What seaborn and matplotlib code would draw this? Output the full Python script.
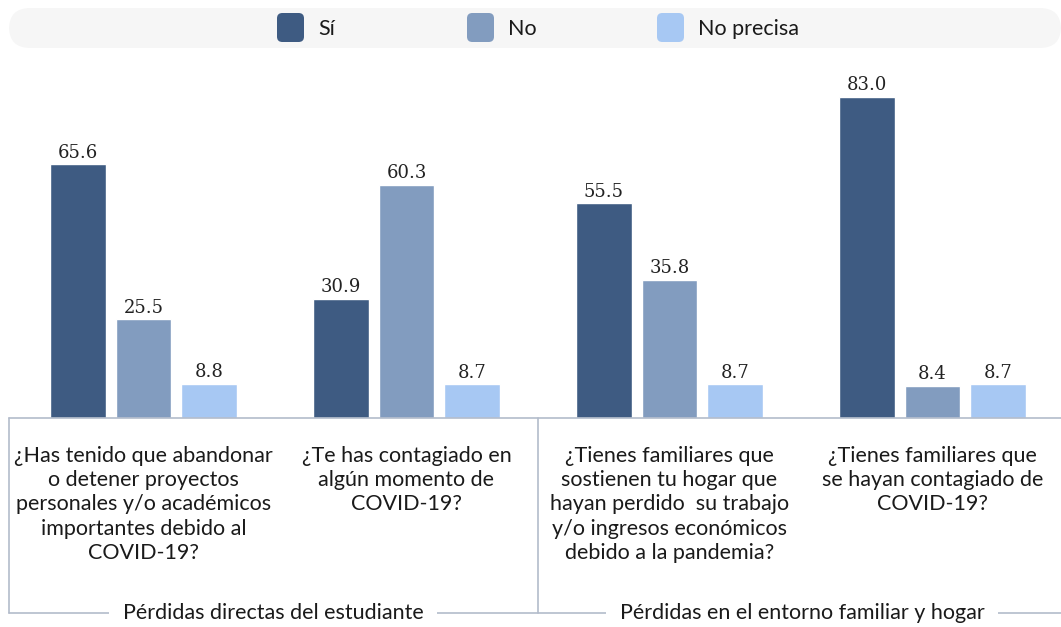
import pandas as pd
import seaborn as sns
import matplotlib.pyplot as plt
from matplotlib.patches import FancyBboxPatch
from matplotlib.lines import Line2D

preguntas = [
    "¿Has tenido que abandonar\no detener proyectos\npersonales y/o académicos\nimportantes debido al\nCOVID-19?",
    "¿Te has contagiado en\nalgún momento de\nCOVID-19?",
    "¿Tienes familiares que\nsostienen tu hogar que\nhayan perdido  su trabajo\ny/o ingresos económicos\ndebido a la pandemia?",
    "¿Tienes familiares que\nse hayan contagiado de\nCOVID-19?",
]
respuestas = ["Sí", "No", "No precisa"]
si = [65.6, 30.9, 55.5, 83.0]
no = [25.5, 60.3, 35.8, 8.4]
no_precisa = [8.8, 8.7, 8.7, 8.7]
grupos = ["Pérdidas directas del estudiante", "Pérdidas en el entorno familiar y hogar"]

palette = {"Sí": "#3e5b82", "No": "#829cbf", "No precisa": "#a7c8f3"}
LINE = "#b3bccb"
W, H = 1061, 627


def px(x, y):
    return x / W, 1 - y / H


def plot(data):
    sns.set_style("white")
    plt.rcParams["font.family"] = ["Lato", "DejaVu Sans"]
    fig = plt.figure(figsize=(W / 100, H / 100), dpi=100)
    ax = fig.add_axes([12 / W, 209 / H, 1049 / W, 348 / H])

    sns.barplot(data=data, x="pregunta", y="valor", hue="respuesta",
                hue_order=respuestas, palette=palette, width=0.75, gap=0.15,
                saturation=1, legend=False, ax=ax)
    for c in ax.containers:
        ax.bar_label(c, fmt="%.1f", padding=2, fontsize=13,
                     family="DejaVu Serif", color="#222222")

    ax.set_xlim(-0.5, -0.5 + 1049 / 263)
    ax.set_ylim(0, 90)
    ax.set_xlabel("")
    ax.set_ylabel("")
    ax.set_yticks([])
    ax.tick_params(axis="x", length=0, pad=20, labelsize=15.5, labelcolor="#1a1a1a")
    for lab in ax.get_xticklabels():
        lab.set_linespacing(1.27)
    sns.despine(ax=ax, left=True, bottom=True)

    # caja de categorías
    for (x0, y0), (x1, y1) in [((9, 418), (1061, 418)), ((9, 613), (1061, 613)),
                               ((9, 418), (9, 613)), ((538, 418), (538, 613))]:
        a, b = px(x0, y0)
        c, d = px(x1, y1)
        fig.add_artist(Line2D([a, c], [b, d], color=LINE, lw=1.2))
    for g, cx in zip(grupos, [273, 802]):
        fig.text(*px(cx, 613), g, ha="center", va="center", fontsize=15.5,
                 color="#1a1a1a",
                 bbox=dict(facecolor="white", edgecolor="none", pad=10))

    # leyenda
    a, b = px(9, 48)
    fig.add_artist(FancyBboxPatch((a, b), 1052 / W, 40 / H,
                                  boxstyle="round,pad=0,rounding_size=0.02",
                                  mutation_aspect=W / H,
                                  facecolor="#f6f6f6", edgecolor="none"))
    for r, x in zip(respuestas, [277, 467, 657]):
        a, b = px(x, 42)
        fig.add_artist(FancyBboxPatch((a, b), 27 / W, 29 / H,
                                      boxstyle="round,pad=0,rounding_size=0.005",
                                      mutation_aspect=W / H,
                                      facecolor=palette[r], edgecolor="none"))
        fig.text(*px(x + 41, 29), r, ha="left", va="center", fontsize=15.5,
                 color="#1a1a1a")

    plt.savefig("out.png", dpi=100)


if __name__ == "__main__":
    data = pd.DataFrame({
        "pregunta": preguntas * 3,
        "respuesta": [r for r in respuestas for _ in preguntas],
        "valor": si + no + no_precisa,
    })
    plot(data)
